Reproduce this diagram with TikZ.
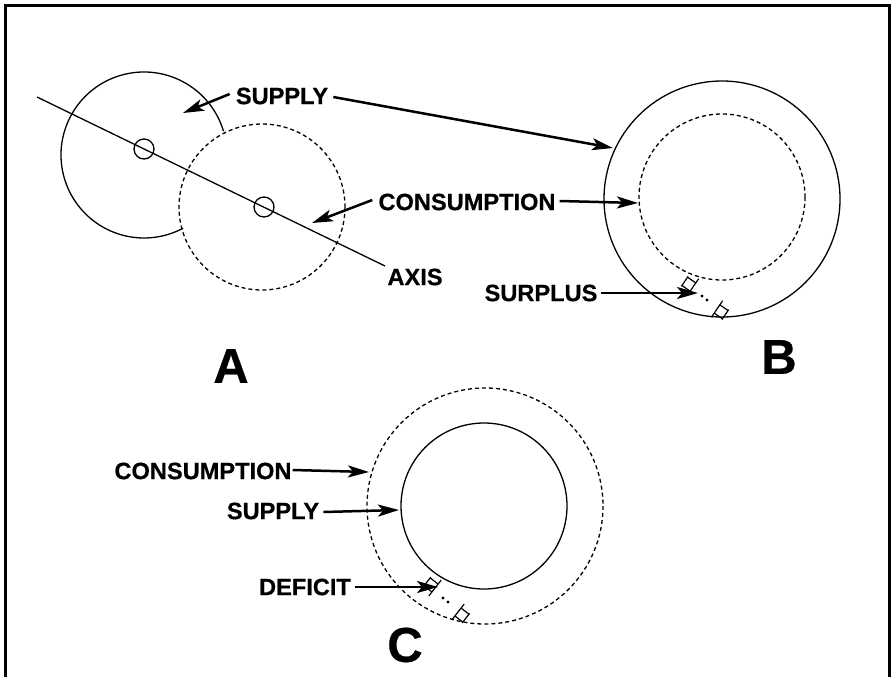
\documentclass[tikz,border=0pt]{standalone}
\usepackage{fontspec}
\setmainfont{Liberation Sans}
\newfontfamily\heavysans{Liberation Sans Bold}[FakeBold=0.5]
\usetikzlibrary{arrows.meta}

\tikzset{
  lab/.style={inner sep=0pt, font=\heavysans\fontsize{23.6}{24}\selectfont},
  big/.style={inner sep=0pt, font=\heavysans\fontsize{49}{49}\selectfont},
  ptr/.style={line width=2.5pt,
    -{Stealth[length=21pt,width=12pt,inset=5pt]}},
  ring/.style={line width=1.3pt},
  dashring/.style={line width=1.3pt, dash pattern=on 4pt off 3pt},
  gapmark/.pic={
    \draw[line width=1.2pt] (0,-10) -- (0,10);
    \draw[line width=1.2pt] (-10,-6) -- (-10,6);
    \draw[line width=1.2pt] (0,-5) -- (-10,-5) (0,5) -- (-10,5);
  }
}

\begin{document}
\begin{tikzpicture}[x=1pt,y=-1pt]
\useasboundingbox (0,0) rectangle (893,677);

% frame
\draw[line width=3pt] (5,677) -- (5,6) -- (889,6) -- (889,677);

% ---------- A: offset supply and consumption circles ----------
\draw[ring] (144,155) ++(-16.7:83) arc[start angle=-16.7, end angle=-298.1, radius=83];
\draw[dashring] (262,207) circle[radius=83];
\draw[ring] (144,149) circle[radius=10];
\draw[ring] (264,207) circle[radius=10];
\coordinate (axS) at (37,97);
\coordinate (axE) at (385,266);
\draw[ring] (axS) -- (axE);

% ---------- B: supply larger than consumption ----------
\draw[ring] (722,199) circle[radius=118];
\draw[dashring] (722,197) circle[radius=83];
\pic[rotate=-34] at (693,287) {gapmark};
\pic[rotate=-34, xscale=-1] at (717,309) {gapmark};
\fill (702,296) circle[radius=1.6];
\fill (707,300) circle[radius=1.6];

% ---------- C: consumption larger than supply ----------
\draw[dashring] (485,506) circle[radius=118];
\draw[ring] (484,506) circle[radius=83];
\pic[rotate=-38] at (435,588) {gapmark};
\pic[rotate=-38, xscale=-1] at (458,612) {gapmark};
\fill (443,598) circle[radius=1.6];
\fill (448,602) circle[radius=1.6];

% labels
\node[lab] (sup) at (282,96) {SUPPLY};
\node[lab] (conB) at (467,202) {CONSUMPTION};
\node[lab] (axis) at (415,277) {AXIS};
\node[lab] (surp) at (541,293) {SURPLUS};
\node[lab] (conC) at (203,471) {CONSUMPTION};
\node[lab] (supC) at (273,511) {SUPPLY};
\node[lab] (def) at (305,587) {DEFICIT};
\node[big] (lA) at (231,366) {A};
\node[big] (lB) at (779,357) {B};
\node[big] (lC) at (405,645) {C};

% arrow targets
\coordinate (tA1) at (183,113);
\coordinate (tB1) at (613,148);
\coordinate (tB2) at (638,203);
\coordinate (tA2) at (312,223);
\coordinate (tS) at (698,293);
\coordinate (tC1) at (369,472);
\coordinate (tC2) at (399,510);
\coordinate (tD) at (438,587);

% arrows
\draw[ptr] ([xshift=-6pt,yshift=2pt]sup.west) -- (tA1);
\draw[ptr] ([xshift=5pt,yshift=-1pt]sup.east) -- (tB1);
\draw[ptr] ([xshift=4pt,yshift=1pt]conB.east) -- (tB2);
\draw[ptr] ([xshift=-6pt,yshift=2pt]conB.west) -- (tA2);
\draw[ptr] ([xshift=3pt]surp.east) -- (tS);
\draw[ptr] ([xshift=1pt,yshift=1pt]conC.east) -- (tC1);
\draw[ptr] ([xshift=4pt,yshift=-1pt]supC.east) -- (tC2);
\draw[ptr] ([xshift=4pt]def.east) -- (tD);
\end{tikzpicture}
\end{document}
